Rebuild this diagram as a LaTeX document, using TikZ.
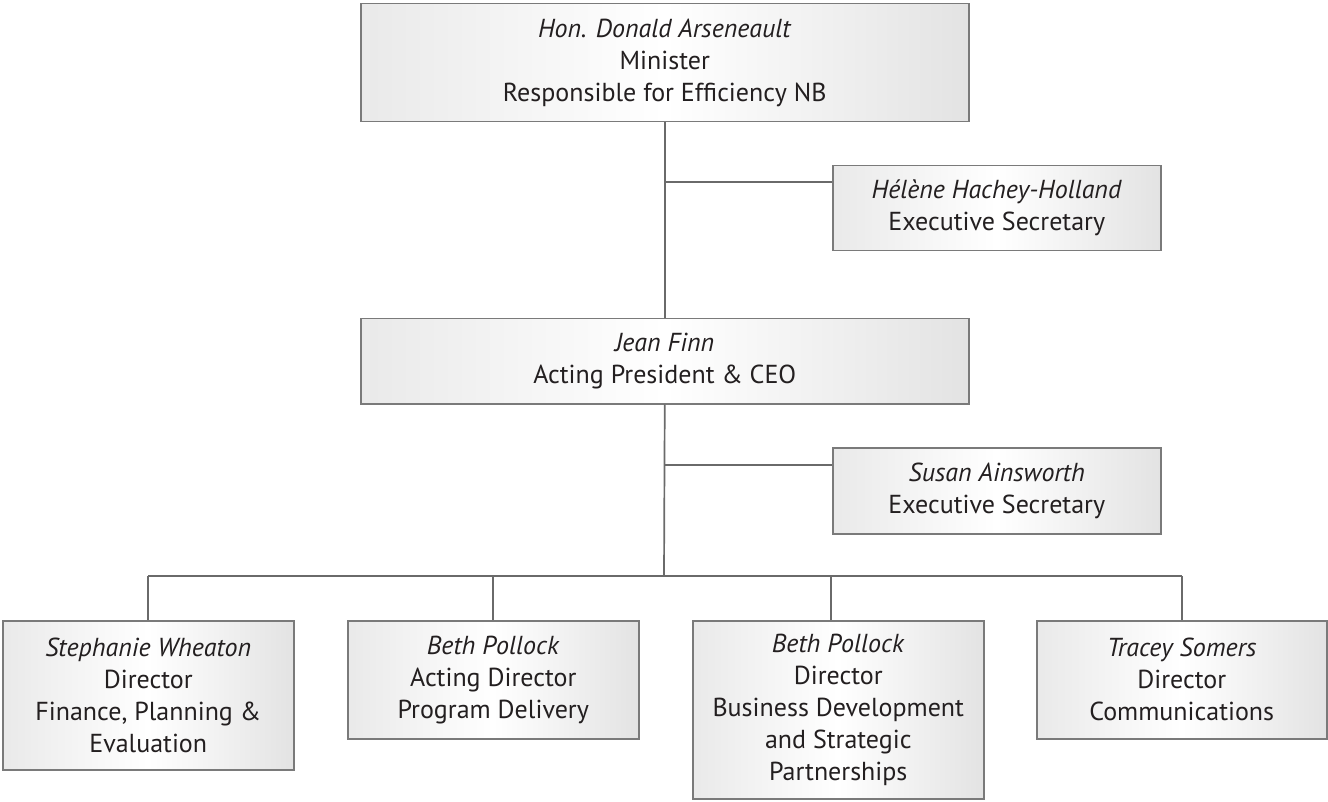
\documentclass[tikz,border=0pt]{standalone}
\usepackage{fontspec}
\setmainfont{PT Sans}
\definecolor{boxline}{HTML}{7A7A7A}
\definecolor{conline}{HTML}{6A6A6A}
\definecolor{txt}{HTML}{231F20}
\begin{document}
\begin{tikzpicture}[x=1pt,y=-1pt,
  box/.style={draw=boxline, line width=1.5pt, left color=gray!17, right color=gray!22, middle color=white,
    align=center, inner sep=0pt, anchor=north west, text=txt,
    font=\fontsize{26}{32}\selectfont},
  conn/.style={draw=conline, line width=1.7pt}]
\useasboundingbox (0,0) rectangle (1328,802);

\node[box, minimum width=608pt, minimum height=118pt] (top) at (360,3)
  {\textit{Hon. Donald Arseneault}\\Minister\\Responsible for Efficiency NB};
\node[box, minimum width=328pt, minimum height=85pt] (sec1) at (832,165)
  {\textit{Hélène Hachey-Holland}\\Executive Secretary};
\node[box, minimum width=608pt, minimum height=85pt] (jean) at (360,318)
  {\textit{Jean Finn}\\Acting President \& CEO};
\node[box, minimum width=328pt, minimum height=86pt] (sec2) at (832,447)
  {\textit{Susan Ainsworth}\\Executive Secretary};
\node[box, minimum width=291pt, minimum height=149pt] (b1) at (2,620)
  {\textit{Stephanie Wheaton}\\Director\\Finance, Planning \&\\Evaluation};
\node[box, minimum width=291pt, minimum height=118pt] (b2) at (347,620)
  {\textit{Beth Pollock}\\Acting Director\\Program Delivery};
\node[box, minimum width=291pt, minimum height=178pt] (b3) at (692,620)
  {\textit{Beth Pollock}\\Director\\Business Development\\and Strategic\\Partnerships};
\node[box, minimum width=290pt, minimum height=118pt] (b4) at (1036,620)
  {\textit{Tracey Somers}\\Director\\Communications};

\coordinate (j1) at (664,182);
\coordinate (j2) at (664,465);
\coordinate (bus) at (664,576);
\coordinate (d3) at (831,576);

\draw[conn] (top.south) -- (jean.north);
\draw[conn] (j1) -- (j1 -| sec1.west);
\draw[conn] (jean.south) -- (bus);
\draw[conn] (j2) -- (j2 -| sec2.west);
\draw[conn] (bus -| b1.north) -- (bus -| b4.north);
\draw[conn] (bus -| b1.north) -- (b1.north);
\draw[conn] (bus -| b2.north) -- (b2.north);
\draw[conn] (d3) -- (d3 |- b3.north);
\draw[conn] (bus -| b4.north) -- (b4.north);
\end{tikzpicture}
\end{document}
